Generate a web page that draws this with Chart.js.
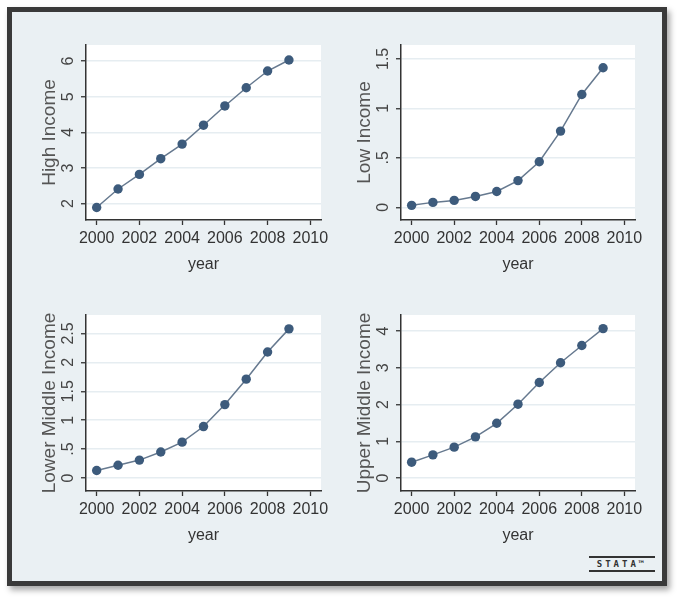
<!DOCTYPE html>
<html>
<head>
<meta charset="utf-8">
<script src="https://cdn.jsdelivr.net/npm/chart.js@4.4.1/dist/chart.umd.min.js"></script>
<style>
  body { margin: 0; background: #fff; }
  #page { position: relative; width: 684px; height: 602px; overflow: hidden; }
  #frame {
    position: absolute; left: 7px; top: 7px; width: 660px; height: 579px;
    box-sizing: border-box; border: 5px solid #3a3a3a; background: #eaf0f3;
    box-shadow: 3px 4px 6px rgba(0, 0, 0, 0.35);
  }
  canvas { position: absolute; }
  #logo {
    position: absolute; left: 589px; top: 556px; width: 66px;
    border-top: 2px solid #333; border-bottom: 2px solid #333;
    font: bold 9px "DejaVu Sans Mono", monospace; letter-spacing: 3px;
    color: #333; text-align: center; line-height: 12px;
  }
</style>
</head>
<body>
<div id="page">
  <div id="frame"></div>
  <canvas id="highChart" width="305" height="245" style="left:26px;top:33px"></canvas>
  <canvas id="lowChart" width="304" height="245" style="left:341px;top:33px"></canvas>
  <canvas id="lowerChart" width="305" height="246" style="left:26px;top:303px"></canvas>
  <canvas id="upperChart" width="304" height="246" style="left:341px;top:303px"></canvas>
  <div id="logo">STATA&trade;</div>
</div>
<script>
const years = [2000, 2001, 2002, 2003, 2004, 2005, 2006, 2007, 2008, 2009]
const highIncome = [1.89, 2.41, 2.82, 3.26, 3.67, 4.20, 4.74, 5.25, 5.72, 6.03]
const lowIncome = [0.02, 0.05, 0.07, 0.11, 0.16, 0.27, 0.46, 0.77, 1.14, 1.41]
const lowerMiddleIncome = [0.13, 0.22, 0.31, 0.45, 0.62, 0.89, 1.27, 1.71, 2.18, 2.58]
const upperMiddleIncome = [0.43, 0.63, 0.84, 1.12, 1.49, 2.01, 2.60, 3.14, 3.61, 4.07]

const xTicks = [2000, 2002, 2004, 2006, 2008, 2010]
const highTicks = [2, 3, 4, 5, 6]
const highLabels = ["2", "3", "4", "5", "6"]
const lowTicks = [0, 0.5, 1, 1.5]
const lowLabels = ["0", ".5", "1", "1.5"]
const lowerTicks = [0, 0.5, 1, 1.5, 2, 2.5]
const lowerLabels = ["0", ".5", "1", "1.5", "2", "2.5"]
const upperTicks = [0, 1, 2, 3, 4]
const upperLabels = ["0", "1", "2", "3", "4"]

const FONT = '"Liberation Sans", Arial, sans-serif'

// rotated y tick labels, like stata draws them
const yTickText = {
    id: 'yTickText',
    afterDraw(chart) {
        const { ctx, scales: { y } } = chart
        ctx.save()
        ctx.font = "16px " + FONT
        ctx.fillStyle = '#444'
        ctx.textAlign = 'center'
        ctx.textBaseline = 'middle'
        y.ticks.forEach(t => {
            ctx.save()
            ctx.translate(y.right - 18, y.getPixelForValue(t.value))
            ctx.rotate(-Math.PI / 2)
            ctx.fillText(t.label, 0, 1)
            ctx.restore()
        })
        ctx.restore()
    }
}

function createPanel(id, title, values, yTicks, yLabels, yMin, yMax) {
    const points = years.map((yr, i) => ({ x: yr, y: values[i] }))
    const config = {
        type: "line",
        data: {
            datasets: [
                {
                    label: title,
                    data: points,
                    borderColor: "#66798f",
                    borderWidth: 1.5,
                    pointBackgroundColor: "#3d5b7c",
                    pointBorderColor: "#3d5b7c",
                    pointRadius: 4.7,
                    pointBorderWidth: 0,
                    tension: 0,
                },
            ],
        },
        options: {
            responsive: false,
            animation: false,
            devicePixelRatio: 1,
            layout: { padding: { top: 12, right: 10, left: 0, bottom: 0 } },
            plugins: {
                legend: { display: false },
                tooltip: { enabled: false },
            },
            scales: {
                x: {
                    type: "linear",
                    min: 1999.5,
                    max: 2010.5,
                    afterBuildTicks: s => { s.ticks = xTicks.map(v => ({ value: v })) },
                    afterFit: s => { s.height = 58; s.paddingLeft = 0; s.paddingRight = 0 },
                    grid: { drawOnChartArea: false, tickLength: 5, tickColor: "#333", tickWidth: 1.3 },
                    border: { color: "#333", width: 1.5 },
                    ticks: {
                        padding: 4,
                        maxRotation: 0,
                        color: "#333",
                        font: { family: FONT, size: 16 },
                        callback: v => String(v),
                    },
                    title: {
                        display: true,
                        text: "year",
                        color: "#333",
                        font: { family: FONT, size: 16 },
                        padding: { top: 0, bottom: 4 },
                    },
                },
                y: {
                    min: yMin,
                    max: yMax,
                    afterBuildTicks: s => { s.ticks = yTicks.map(v => ({ value: v })) },
                    afterFit: s => { s.width = 60; s.paddingTop = 0; s.paddingBottom = 0 },
                    grid: { color: "#e6edf1", lineWidth: 1.5, tickLength: 5, tickColor: "#333", tickWidth: 1.3 },
                    border: { color: "#333", width: 1.5 },
                    ticks: {
                        display: false,
                        callback: (v, i) => yLabels[i],
                    },
                    title: {
                        display: true,
                        text: title,
                        color: "#555",
                        font: { family: FONT, size: 19 },
                        padding: { top: 12, bottom: 0 },
                    },
                },
            },
        },
        plugins: [yTickText, {
            id: 'whiteArea',
            beforeDraw(chart) {
                const { ctx, chartArea: { left, top, width, height } } = chart
                ctx.save()
                ctx.fillStyle = '#fff'
                ctx.fillRect(left, top, width, height)
                ctx.restore()
            }
        }]
    }
    return new Chart(document.getElementById(id), config)
}

createPanel("highChart", "High Income", highIncome, highTicks, highLabels, 1.54, 6.45)
createPanel("lowChart", "Low Income", lowIncome, lowTicks, lowLabels, -0.128, 1.64)
createPanel("lowerChart", "Lower Middle Income", lowerMiddleIncome, lowerTicks, lowerLabels, -0.225, 2.82)
createPanel("upperChart", "Upper Middle Income", upperMiddleIncome, upperTicks, upperLabels, -0.355, 4.44)
</script>
</body>
</html>
